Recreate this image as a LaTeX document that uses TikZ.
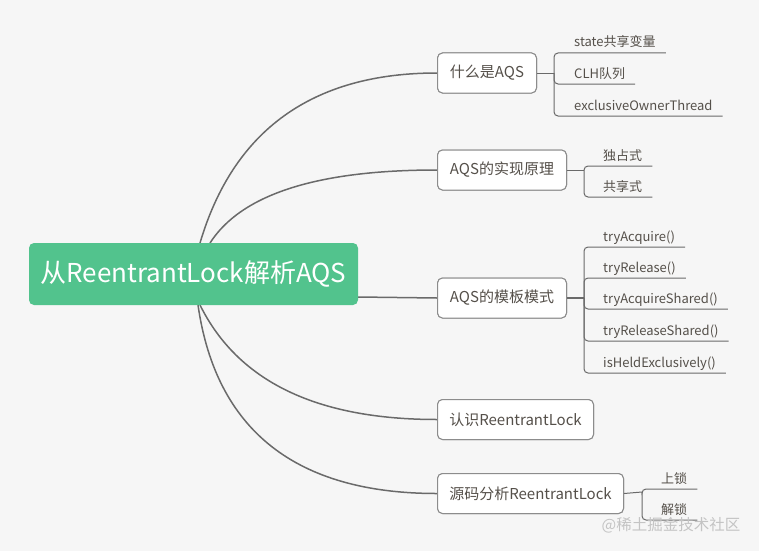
\documentclass[tikz,border=0pt]{standalone}
\usepackage{fontspec}
\setmainfont{Noto Sans CJK SC}
\usetikzlibrary{calc}
\definecolor{bg}{HTML}{F6F6F6}
\definecolor{rootgreen}{HTML}{52C38D}
\definecolor{linegray}{HTML}{6A6A6A}
\definecolor{boxgray}{HTML}{8C8C8C}
\definecolor{txt}{HTML}{55504A}
\definecolor{wmgray}{HTML}{C4C4C4}
\begin{document}
\begin{tikzpicture}[x=1pt,y=-1pt,
 rootbox/.style={fill=rootgreen, rounded corners=5pt, minimum width=329pt, minimum height=62pt, text=white, font=\fontsize{26}{30}\selectfont, inner sep=0},
 childbox/.style={draw=boxgray, line width=1pt, fill=white, rounded corners=5pt, minimum height=40pt, inner sep=0, text=txt, font=\fontsize{15}{18}\selectfont, anchor=west},
 leaftext/.style={inner sep=0, anchor=base west, text=txt, font=\fontsize{13}{16}\selectfont},
 mainline/.style={draw=linegray, line width=1.5pt},
 leafline/.style={draw=linegray, line width=1pt, rounded corners=4pt},
]
\fill[bg] (0,0) rectangle (759,551);
\useasboundingbox (0,0) rectangle (759,551);

% connector start points on the root box
\coordinate (s1) at (200,243);
\coordinate (s2) at (210,243);
\coordinate (s3) at (358,297);
\coordinate (s4) at (200,305);
\coordinate (s5) at (198,305);

% children
\node[childbox, minimum width=99pt]  (n1) at (437,73)  {什么是AQS};
\node[childbox, minimum width=129pt] (n2) at (437,170) {AQS的实现原理};
\node[childbox, minimum width=129pt] (n3) at (437,298) {AQS的模板模式};
\node[childbox, minimum width=156pt] (n4) at (437,419.5) {认识ReentrantLock};
\node[childbox, minimum width=186pt] (n5) at (437,493.5) {源码分析ReentrantLock};

% main connectors
\draw[mainline] (s1) .. controls (233.3,130.3) and (312.3,73) .. (n1.west);
\draw[mainline] (s2) .. controls (241.3,194.3) and (317,170) .. (n2.west);
\draw[mainline] (s3) -- (n3.west);
\draw[mainline] (s4) .. controls (238,381.7) and (317,419.5) .. (n4.west);
\draw[mainline] (s5) .. controls (216,430.3) and (295.7,493.5) .. (n5.west);

% root
\node[rootbox] (root) at (193.5,274) {从ReentrantLock解析AQS};

% redraw child boxes on top of connectors
\node[childbox, minimum width=99pt]  at (437,73)  {什么是AQS};
\node[childbox, minimum width=129pt] at (437,170) {AQS的实现原理};
\node[childbox, minimum width=129pt] at (437,298) {AQS的模板模式};
\node[childbox, minimum width=156pt] at (437,419.5) {认识ReentrantLock};
\node[childbox, minimum width=186pt] at (437,493.5) {源码分析ReentrantLock};

% group connection points
\coordinate (g1) at (554,73);
\coordinate (g2) at (584,170);
\coordinate (g3) at (584,298);
\coordinate (g5) at (642,492);
\draw[leafline] (n1.east) -- (g1);
\draw[leafline] (n2.east) -- (g2);
\draw[mainline] (n3.east) -- (g3);
\draw[leafline] (n5.east) -- (g5);

% group 1
\node[leaftext] (l11) at (574,47)  {state共享变量};
\node[leaftext] (l12) at (574,78)  {CLH队列};
\node[leaftext] (l13) at (574,110) {exclusiveOwnerThread};
\draw[leafline] (g1) |- ($(l11.base east)+(10pt,-6pt)$);
\draw[leafline] (g1) |- ($(l12.base east)+(10pt,-6pt)$);
\draw[leafline] (g1) |- ($(l13.base east)+(10pt,-6pt)$);

% group 2
\node[leaftext] (l21) at (603,160) {独占式};
\node[leaftext] (l22) at (603,191) {共享式};
\draw[leafline] (g2) |- ($(l21.base east)+(10pt,-6pt)$);
\draw[leafline] (g2) |- ($(l22.base east)+(10pt,-6pt)$);

% group 3
\node[leaftext] (l31) at (603,241) {tryAcquire()};
\node[leaftext] (l32) at (603,272) {tryRelease()};
\node[leaftext] (l33) at (603,303) {tryAcquireShared()};
\node[leaftext] (l34) at (603,335) {tryReleaseShared()};
\node[leaftext] (l35) at (603,367) {isHeldExclusively()};
\foreach \l in {l31,l32,l33,l34,l35}
  \draw[leafline] (g3) |- ($(\l.base east)+(10pt,-6pt)$);

% group 5
\node[leaftext] (l51) at (661,483) {上锁};
\node[leaftext] (l52) at (661,514) {解锁};
\draw[leafline] (g5) |- ($(l51.base east)+(10pt,-6pt)$);
\draw[leafline] (g5) |- ($(l52.base east)+(10pt,-6pt)$);

% watermark
\node[inner sep=0, text=wmgray, font=\fontsize{15.5}{18}\selectfont] (wm) at (671,525) {@稀土掘金技术社区};
\end{tikzpicture}
\end{document}
